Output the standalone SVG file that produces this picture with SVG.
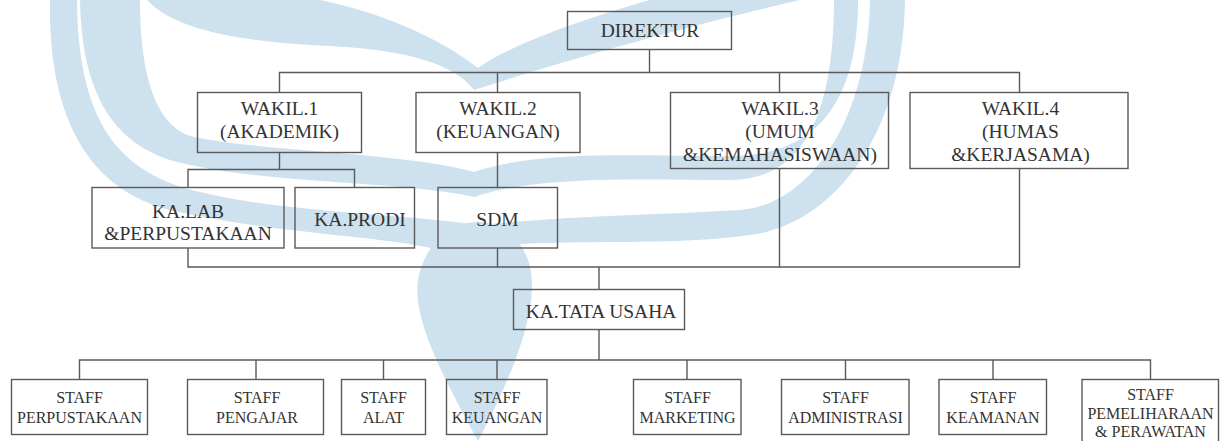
<svg xmlns="http://www.w3.org/2000/svg" width="1226" height="441" viewBox="0 0 1226 441">
  <style>
    .wm { fill: #cde1ee; stroke: none; }
    .box { fill: none; stroke: #5a5a5a; stroke-width: 1.4; }
    .conn { fill: none; stroke: #5a5a5a; stroke-width: 1.4; }
    .t { font-family: "Liberation Serif", "Times New Roman", serif; font-size: 19.5px; fill: #333; text-anchor: middle; }
    .s { font-family: "Liberation Serif", "Times New Roman", serif; font-size: 16px; fill: #333; text-anchor: middle; }
  </style>
  <rect x="0" y="0" width="1226" height="441" fill="#ffffff"/>
  <g id="watermark">
    <path class="wm" d="M50,0 C48,120 90,190 170,210 C280,235 380,235 440,250 L470,224 C400,214 280,212 200,192 C110,172 78,110 77,0 Z"/>
    <path class="wm" d="M905,0 C903,140 830,225 750,235 C680,245 600,240 520,244 L492,224 C580,215 660,215 740,210 C810,205 868,120 870,0 Z"/>
    <path class="wm" d="M80,0 C82,90 110,140 170,160 C260,185 400,180 474,197 C540,175 640,180 730,180 C800,180 834,120 834,0 L858,0 C858,110 810,156 730,156 C630,156 540,150 474,172 C400,152 260,152 190,136 C150,122 140,60 140,0 Z"/>
    <path class="wm" d="M147,0 C175,30 240,42 330,46 C410,50 455,65 474,90 C530,72 650,35 800,0 L650,0 C580,20 510,45 478,68 C440,38 380,12 320,0 Z"/>
    <path class="wm" d="M478,441 C445,380 412,320 418,280 C424,245 450,222 478,222 C505,222 532,245 532,285 C532,330 505,390 478,441 Z"/>
  </g>
  <g id="connectors">
    <path class="conn" d="M649.5,49.5 V72.5"/>
    <path class="conn" d="M279.5,92.5 V72.5 H1019.5 V92.5"/>
    <path class="conn" d="M497.5,72.5 V92.5"/>
    <path class="conn" d="M779.5,72.5 V92.5"/>
    <path class="conn" d="M279.5,152.5 V169.5"/>
    <path class="conn" d="M188,187.5 V169.5 H354.5 V187.5"/>
    <path class="conn" d="M497.5,152.5 V187.5"/>
    <path class="conn" d="M188,248 V267 H1019.5 V168.5"/>
    <path class="conn" d="M497.5,248 V267"/>
    <path class="conn" d="M779.5,168.5 V267"/>
    <path class="conn" d="M599,267 V289.5"/>
    <path class="conn" d="M599,329.5 V360"/>
    <path class="conn" d="M79.5,379.5 V360 H1150.5 V379.5"/>
    <path class="conn" d="M256,360 V379.5"/>
    <path class="conn" d="M383.5,360 V379.5"/>
    <path class="conn" d="M497,360 V379.5"/>
    <path class="conn" d="M687,360 V379.5"/>
    <path class="conn" d="M845.5,360 V379.5"/>
    <path class="conn" d="M993,360 V379.5"/>
  </g>
  <g id="direktur">
    <rect class="box" x="567.5" y="11.5" width="164" height="38"/>
    <text class="t" x="650" y="37" font-size="20">DIREKTUR</text>
  </g>
  <g id="wakil1">
    <rect class="box" x="197.5" y="92.5" width="164" height="60"/>
    <text class="t" x="279.5" y="115">WAKIL.1</text>
    <text class="t" x="279.5" y="138">(AKADEMIK)</text>
  </g>
  <g id="wakil2">
    <rect class="box" x="416" y="92.5" width="164" height="60"/>
    <text class="t" x="498" y="115">WAKIL.2</text>
    <text class="t" x="498" y="138">(KEUANGAN)</text>
  </g>
  <g id="wakil3">
    <rect class="box" x="670.5" y="92.5" width="218" height="76"/>
    <text class="t" x="780" y="115">WAKIL.3</text>
    <text class="t" x="780" y="138">(UMUM</text>
    <text class="t" x="780" y="161">&amp;KEMAHASISWAAN)</text>
  </g>
  <g id="wakil4">
    <rect class="box" x="910" y="92.5" width="218" height="76"/>
    <text class="t" x="1020.5" y="115">WAKIL.4</text>
    <text class="t" x="1020.5" y="138">(HUMAS</text>
    <text class="t" x="1020.5" y="161">&amp;KERJASAMA)</text>
  </g>
  <g id="kalab">
    <rect class="box" x="92" y="187.5" width="192" height="60.5"/>
    <text class="t" x="188" y="218">KA.LAB</text>
    <text class="t" x="188" y="240">&amp;PERPUSTAKAAN</text>
  </g>
  <g id="kaprodi">
    <rect class="box" x="295" y="187.5" width="119.5" height="60.5"/>
    <text class="t" x="360" y="226" font-size="20">KA.PRODI</text>
  </g>
  <g id="sdm">
    <rect class="box" x="438" y="187.5" width="119.5" height="60.5"/>
    <text class="t" x="497.5" y="226">SDM</text>
  </g>
  <g id="katatausaha">
    <rect class="box" x="513.5" y="289.5" width="171" height="40"/>
    <text class="t" x="601" y="318">KA.TATA USAHA</text>
  </g>
  <g id="staff-perpustakaan">
    <rect class="box" x="11.5" y="379.5" width="136" height="55"/>
    <text class="s" x="79.5" y="403">STAFF</text>
    <text class="s" x="79.5" y="423">PERPUSTAKAAN</text>
  </g>
  <g id="staff-pengajar">
    <rect class="box" x="187.5" y="379.5" width="136" height="55"/>
    <text class="s" x="257" y="403">STAFF</text>
    <text class="s" x="257" y="423">PENGAJAR</text>
  </g>
  <g id="staff-alat">
    <rect class="box" x="341.5" y="379.5" width="84" height="55"/>
    <text class="s" x="383.5" y="403">STAFF</text>
    <text class="s" x="383.5" y="423">ALAT</text>
  </g>
  <g id="staff-keuangan">
    <rect class="box" x="446.5" y="379.5" width="100.5" height="55"/>
    <text class="s" x="497" y="403">STAFF</text>
    <text class="s" x="497" y="423">KEUANGAN</text>
  </g>
  <g id="staff-marketing">
    <rect class="box" x="633.5" y="379.5" width="107.5" height="55"/>
    <text class="s" x="687.5" y="403">STAFF</text>
    <text class="s" x="687.5" y="423">MARKETING</text>
  </g>
  <g id="staff-administrasi">
    <rect class="box" x="781.5" y="379.5" width="127.5" height="55"/>
    <text class="s" x="845.5" y="403">STAFF</text>
    <text class="s" x="845.5" y="423">ADMINISTRASI</text>
  </g>
  <g id="staff-keamanan">
    <rect class="box" x="939" y="379.5" width="107.5" height="55"/>
    <text class="s" x="993" y="403">STAFF</text>
    <text class="s" x="993" y="423">KEAMANAN</text>
  </g>
  <g id="staff-pemeliharaan">
    <rect class="box" x="1082" y="379.5" width="136.5" height="66"/>
    <text class="s" x="1150.5" y="399.5">STAFF</text>
    <text class="s" x="1150.5" y="419">PEMELIHARAAN</text>
    <text class="s" x="1150.5" y="437">&amp; PERAWATAN</text>
  </g>
</svg>
